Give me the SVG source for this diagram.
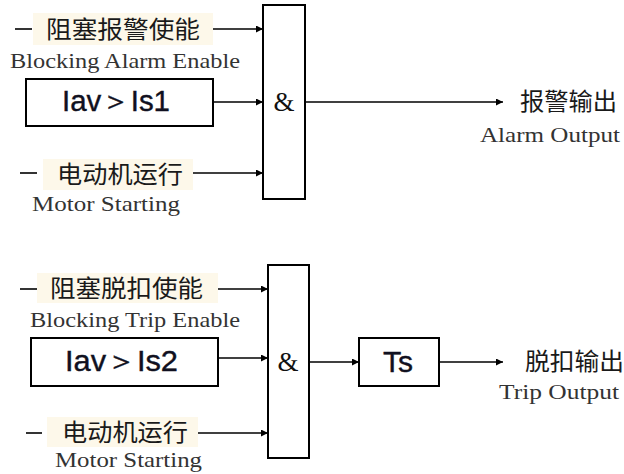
<svg xmlns="http://www.w3.org/2000/svg" width="624" height="474" viewBox="0 0 624 474">
<defs>
<style>
.ln{stroke:#000;stroke-width:1.6;fill:none}
.box{stroke:#000;stroke-width:2;fill:#fff}
.bg{fill:#fdf8ea}
.cn{font-family:"Noto Sans CJK SC",sans-serif;font-size:24px;fill:#1a1a1a}
.en{font-family:"Liberation Serif",serif;font-size:22px;fill:#333}
.sb{font-family:"Liberation Sans",Arial,sans-serif;font-size:30px;fill:#101020;stroke:#101020;stroke-width:0.4}
.amp{font-family:"Liberation Serif",serif;font-size:27px;fill:#111}
</style>
<marker id="ah" viewBox="0 0 10 10" refX="10" refY="5" markerWidth="9" markerHeight="7" markerUnits="userSpaceOnUse" orient="auto">
<path d="M0,0 L10,5 L0,10 z" fill="#000"/>
</marker>
</defs>
<rect width="624" height="474" fill="#fff"/>

<g id="connectors">
<line class="ln" x1="15" y1="29" x2="32" y2="29"/>
<line class="ln" x1="213" y1="29" x2="263" y2="29" marker-end="url(#ah)"/>
<line class="ln" x1="213" y1="102" x2="263" y2="102" marker-end="url(#ah)"/>
<line class="ln" x1="20" y1="173" x2="37" y2="173"/>
<line class="ln" x1="193" y1="173" x2="263" y2="173" marker-end="url(#ah)"/>
<line class="ln" x1="305" y1="102" x2="503" y2="102" marker-end="url(#ah)"/>

<line class="ln" x1="20" y1="289" x2="37" y2="289"/>
<line class="ln" x1="218" y1="289" x2="268" y2="289" marker-end="url(#ah)"/>
<line class="ln" x1="218" y1="358" x2="268" y2="358" marker-end="url(#ah)"/>
<line class="ln" x1="26" y1="433" x2="42" y2="433"/>
<line class="ln" x1="198" y1="433" x2="268" y2="433" marker-end="url(#ah)"/>
<line class="ln" x1="309" y1="362" x2="359" y2="362" marker-end="url(#ah)"/>
<line class="ln" x1="439" y1="362" x2="503" y2="362" marker-end="url(#ah)"/>
</g>

<g id="in-alarm-enable">
<rect class="bg" x="33" y="13" width="180" height="32"/>
<text class="cn" x="46" y="38" textLength="154" lengthAdjust="spacingAndGlyphs">阻塞报警使能</text>
<text class="en" x="10" y="68" textLength="230" lengthAdjust="spacingAndGlyphs">Blocking Alarm Enable</text>
</g>
<g id="cmp1">
<rect class="box" x="26" y="79" width="187" height="47"/>
<text class="sb" x="62" y="111" textLength="108" lengthAdjust="spacingAndGlyphs">Iav＞Is1</text>
</g>
<g id="in-motor-1">
<rect class="bg" x="43" y="159" width="150" height="31"/>
<text class="cn" x="57" y="183" textLength="126" lengthAdjust="spacingAndGlyphs">电动机运行</text>
<text class="en" x="32" y="211" textLength="148" lengthAdjust="spacingAndGlyphs">Motor Starting</text>
</g>
<g id="and1">
<rect class="box" x="263" y="5" width="42" height="194"/>
<text class="amp" x="284" y="111" text-anchor="middle">&amp;</text>
</g>
<g id="out-alarm">
<text class="cn" x="520" y="110" textLength="97" lengthAdjust="spacingAndGlyphs">报警输出</text>
<text class="en" x="480" y="142" textLength="140" lengthAdjust="spacingAndGlyphs">Alarm Output</text>
</g>

<g id="in-trip-enable">
<rect class="bg" x="37" y="273" width="181" height="30"/>
<text class="cn" x="50" y="297" textLength="153" lengthAdjust="spacingAndGlyphs">阻塞脱扣使能</text>
<text class="en" x="30" y="327" textLength="210" lengthAdjust="spacingAndGlyphs">Blocking Trip Enable</text>
</g>
<g id="cmp2">
<rect class="box" x="31" y="338" width="187" height="48"/>
<text class="sb" x="65" y="371" textLength="113" lengthAdjust="spacingAndGlyphs">Iav＞Is2</text>
</g>
<g id="in-motor-2">
<rect class="bg" x="47" y="417" width="151" height="30"/>
<text class="cn" x="62" y="441" textLength="126" lengthAdjust="spacingAndGlyphs">电动机运行</text>
<text class="en" x="55" y="467" textLength="147" lengthAdjust="spacingAndGlyphs">Motor Starting</text>
</g>
<g id="and2">
<rect class="box" x="268" y="265" width="41" height="193"/>
<text class="amp" x="288" y="371" text-anchor="middle">&amp;</text>
</g>
<g id="ts">
<rect class="box" x="359" y="338" width="80" height="48"/>
<text class="sb" x="398" y="372" text-anchor="middle">Ts</text>
</g>
<g id="out-trip">
<text class="cn" x="525" y="370" textLength="99" lengthAdjust="spacingAndGlyphs">脱扣输出</text>
<text class="en" x="499" y="399" textLength="120" lengthAdjust="spacingAndGlyphs">Trip Output</text>
</g>
</svg>
